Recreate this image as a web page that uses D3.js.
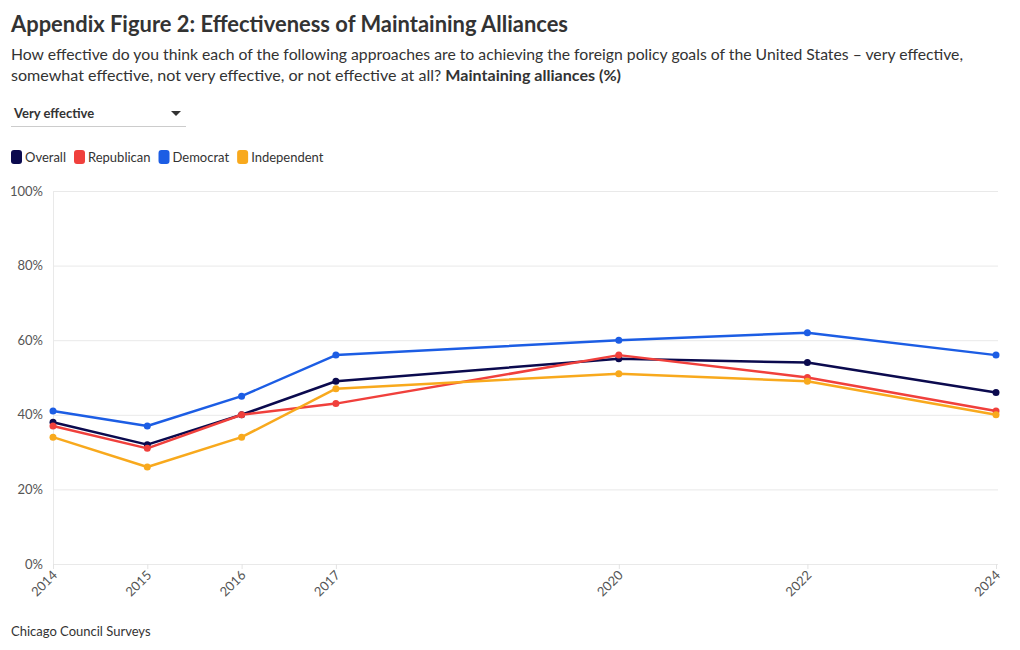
<!DOCTYPE html>
<html><head><meta charset="utf-8">
<script src="https://cdn.jsdelivr.net/npm/d3@7"></script>
<style>body{margin:0;background:#fff;font-family:Lato,"Noto Sans",sans-serif;}</style>
</head><body><svg id="c" width="1020" height="650"></svg>
<script>
const years = [2014, 2015, 2016, 2017, 2020, 2022, 2024];
const seriesNames = ["Overall", "Republican", "Democrat", "Independent"];
const overall = [38, 32, 40, 49, 55, 54, 46];
const republican = [37, 31, 40, 43, 56, 50, 41];
const democrat = [41, 37, 45, 56, 60, 62, 56];
const independent = [34, 26, 34, 47, 51, 49, 40];
const colors = ["#0b0a4e", "#f0403c", "#1c5de4", "#f8a91d"];
const yTicks = [0, 20, 40, 60, 80, 100];
const allSeries = [overall, republican, democrat, independent];

const svg = d3.select("#c");
const font = "Lato, 'Noto Sans', sans-serif";
const x = d3.scaleLinear().domain([2014, 2024]).range([53, 996]);
const y = d3.scaleLinear().domain([0, 100]).range([564, 191]);

// Title & subtitle
svg.append("text").attr("x", 11).attr("y", 32).attr("font-size", 23).attr("font-weight", 700)
  .attr("fill", "#333").attr("font-family", font).attr("textLength", 557).attr("lengthAdjust", "spacingAndGlyphs")
  .text("Appendix Figure 2: Effectiveness of Maintaining Alliances");
svg.append("text").attr("x", 11).attr("y", 60).attr("font-size", 16).attr("fill", "#333").attr("font-family", font)
  .attr("textLength", 952).attr("lengthAdjust", "spacingAndGlyphs")
  .text("How effective do you think each of the following approaches are to achieving the foreign policy goals of the United States – very effective,");
const sub2 = svg.append("text").attr("x", 11).attr("y", 81).attr("font-size", 16).attr("fill", "#333").attr("font-family", font);
sub2.append("tspan").text("somewhat effective, not very effective, or not effective at all? ");
sub2.append("tspan").attr("font-weight", 700).text("Maintaining alliances (%)");
sub2.attr("textLength", 610).attr("lengthAdjust", "spacingAndGlyphs");

// Dropdown
svg.append("text").attr("x", 14).attr("y", 118).attr("font-size", 13).attr("font-weight", 700).attr("fill", "#333")
  .attr("font-family", font).text("Very effective");
svg.append("path").attr("d", "M171,111 L181,111 L176,116 Z").attr("fill", "#333");
svg.append("line").attr("x1", 11).attr("x2", 186).attr("y1", 126.5).attr("y2", 126.5).attr("stroke", "#ccc");

// Legend
let lx = 11;
seriesNames.forEach((n, i) => {
  svg.append("rect").attr("x", lx).attr("y", 150).attr("width", 11).attr("height", 14).attr("rx", 3).attr("fill", colors[i]);
  const t = svg.append("text").attr("x", lx + 14).attr("y", 162).attr("font-size", 13).attr("fill", "#333")
    .attr("font-family", font).text(n);
  lx += 14 + t.node().getComputedTextLength() + 8;
});

// Grid
svg.append("g").selectAll("line").data(yTicks).join("line")
  .attr("x1", 53).attr("x2", 998).attr("y1", d => y(d) + 0.5).attr("y2", d => y(d) + 0.5)
  .attr("stroke", "#e9e9e9");
svg.append("line").attr("x1", 53.5).attr("x2", 53.5).attr("y1", 191).attr("y2", 564).attr("stroke", "#e9e9e9");

// Y labels
svg.append("g").selectAll("text").data(yTicks).join("text")
  .attr("x", 43).attr("y", d => y(d) + 4.5).attr("text-anchor", "end").attr("font-size", 13)
  .attr("fill", "#555").attr("font-family", font).text(d => d + "%");

// X axis ticks & labels
const xg = svg.append("g");
xg.selectAll("line").data(years).join("line")
  .attr("x1", d => x(d) + 0.5).attr("x2", d => x(d) + 0.5).attr("y1", 564).attr("y2", 569).attr("stroke", "#e3e3e3");
xg.selectAll("text").data(years).join("text")
  .attr("transform", d => `translate(${x(d) + 5},${576}) rotate(-45)`)
  .attr("text-anchor", "end").attr("font-size", 13).attr("fill", "#555").attr("font-family", font).text(d => d);

// Lines
const line = d3.line().x((d, i) => x(years[i])).y(d => y(d));
allSeries.forEach((s, i) => {
  const g = svg.append("g");
  g.append("path").datum(s).attr("d", line).attr("fill", "none").attr("stroke", colors[i]).attr("stroke-width", 2.5)
    .attr("stroke-linejoin", "round");
  g.selectAll("circle").data(s).join("circle").attr("cx", (d, j) => x(years[j])).attr("cy", d => y(d))
    .attr("r", 3.5).attr("fill", colors[i]);
});

// Source
svg.append("text").attr("x", 11).attr("y", 636).attr("font-size", 13).attr("fill", "#333").attr("font-family", font)
  .text("Chicago Council Surveys");
</script></body></html>
